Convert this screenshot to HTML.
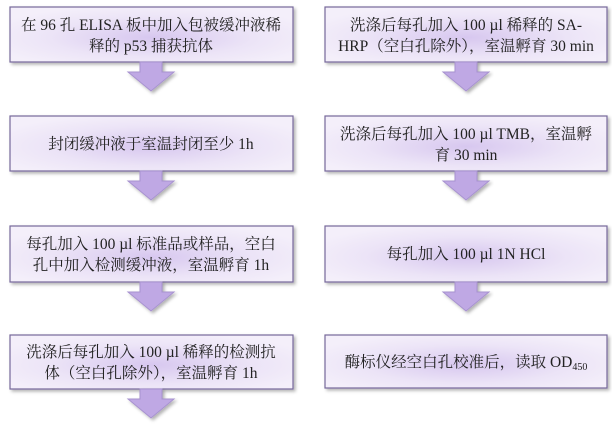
<!DOCTYPE html>
<html><head><meta charset="utf-8"><style>
html,body{margin:0;padding:0;background:#fff}
svg text{font-family:"Liberation Serif","Noto Serif CJK SC",serif;font-size:15.5px;fill:#222}
</style></head><body>
<svg width="612" height="427" xmlns="http://www.w3.org/2000/svg">
<defs>
<radialGradient id="g" cx="50%" cy="55%" r="60%">
<stop offset="0" stop-color="#d7c7ef"/><stop offset="0.6" stop-color="#ece4f7"/><stop offset="1" stop-color="#f4effa"/>
</radialGradient>
<filter id="s" x="-5%" y="-10%" width="115%" height="130%"><feDropShadow dx="2" dy="2" stdDeviation="1.5" flood-color="#000" flood-opacity="0.3"/></filter>
<g id="ar"><path d="M-11,0 L11,0 L11,10 L23,10 L0,29 L-23,10 L-11,10 Z" fill="#bfa8e4" stroke="#a792cf" stroke-width="1" filter="url(#s)"/></g>
</defs>
<g fill="url(#g)" stroke="#76679a" stroke-width="1.2" filter="url(#s)">
<rect x="10" y="7" width="283" height="55"/>
<rect x="10" y="116" width="283" height="55"/>
<rect x="10" y="226" width="283" height="56"/>
<rect x="10" y="335" width="283" height="54"/>
<rect x="325" y="7" width="282" height="55"/>
<rect x="325" y="116" width="282" height="55"/>
<rect x="325" y="226" width="282" height="56"/>
<rect x="325" y="335" width="282" height="53"/>
</g>
<use href="#ar" x="151" y="62"/><use href="#ar" x="151" y="171"/><use href="#ar" x="151" y="282"/><use href="#ar" x="151" y="389"/>
<use href="#ar" x="466" y="62"/><use href="#ar" x="466" y="171"/><use href="#ar" x="466" y="282"/>
<text x="151" y="30" text-anchor="middle">在 96 孔 ELISA 板中加入包被缓冲液稀</text>
<text x="151" y="51" text-anchor="middle">释的 p53 捕获抗体</text>
<text x="151" y="149" text-anchor="middle">封闭缓冲液于室温封闭至少 1h</text>
<text x="151" y="249" text-anchor="middle">每孔加入 100 µl 标准品或样品，空白</text>
<text x="151" y="270" text-anchor="middle">孔中加入检测缓冲液，室温孵育 1h</text>
<text x="151" y="357" text-anchor="middle">洗涤后每孔加入 100 µl 稀释的检测抗</text>
<text x="151" y="378" text-anchor="middle">体（空白孔除外），室温孵育 1h</text>
<text x="466" y="30" text-anchor="middle">洗涤后每孔加入 100 µl 稀释的 SA-</text>
<text x="466" y="51" text-anchor="middle">HRP（空白孔除外），室温孵育 30 min</text>
<text x="466" y="139" text-anchor="middle">洗涤后每孔加入 100 µl TMB，室温孵</text>
<text x="466" y="160" text-anchor="middle">育 30 min</text>
<text x="466" y="259" text-anchor="middle">每孔加入 100 µl 1N HCl</text>
<text x="466" y="367" text-anchor="middle">酶标仪经空白孔校准后，读取 OD<tspan font-size="10" dy="3">450</tspan></text>
</svg>
</body></html>
